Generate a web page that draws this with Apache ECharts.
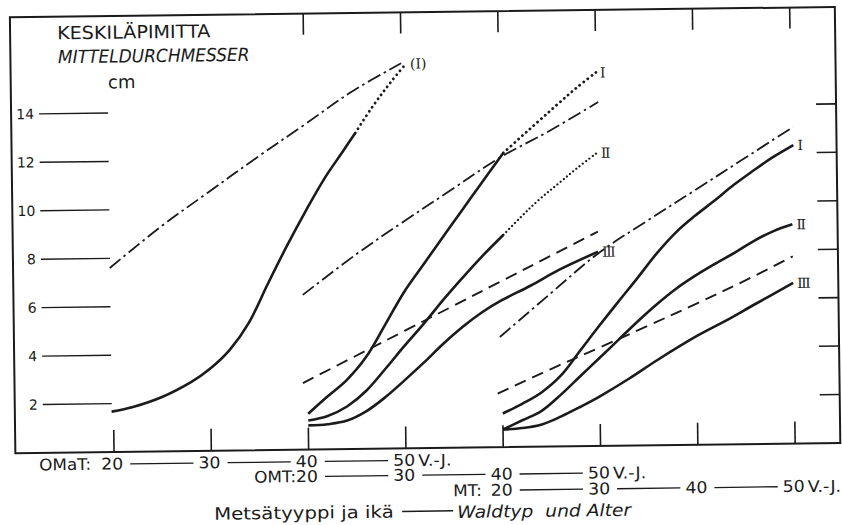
<!DOCTYPE html>
<html>
<head>
<meta charset="utf-8">
<script src="https://cdn.jsdelivr.net/npm/echarts@6/dist/echarts.min.js"></script>
<style>
html,body{margin:0;padding:0;background:#fff;overflow:hidden}
#c{width:842px;height:525px;transform:rotate(-0.72deg);transform-origin:50% 50%;}
</style>
</head>
<body>
<div id="c"></div>
<script>
// ---- axis / label data ----
const typeNames = ['OMaT:', 'OMT:', 'MT:'];
const typeOffsets = [0, 20, 40];          // each forest type's age 20 sits on another tick
const rowAges = [20, 30, 40, 50];
const ageUnit = 'V.-J.';
const yTickValues = [2, 4, 6, 8, 10, 12, 14];
const bottomTickAges = [20, 30, 40, 50, 60, 70, 80, 90];
const topTickAges = [40, 50, 60, 70, 80, 90];
const xMin = 9.86, xMax = 94.64, yMin = 0, yMax = 18;

// ---- OMaT (ages in OMaT years) ----
const omatDashDotAge = [19.8, 25, 30, 35, 40, 45, 50];
const omatDashDotCm  = [7.6, 9.25, 10.67, 12.07, 13.42, 14.78, 15.9];
const omatIAge = [19.8, 22, 25, 28, 30, 32, 34, 36, 38, 40, 42, 44, 45.2];
const omatICm  = [1.67, 1.85, 2.25, 2.85, 3.4, 4.15, 5.25, 6.85, 8.4, 9.85, 11.2, 12.35, 13.05];
const omatIDotAge = [45.2, 47, 49, 50.5];
const omatIDotCm  = [13.05, 14.12, 15.17, 15.88];

// ---- OMT (ages in OMT years) ----
const omtDashDotAge = [19.6, 25, 30, 35, 40, 45, 50.2];
const omtDashDotCm  = [6.39, 8.0, 9.35, 10.65, 11.95, 13.0, 14.2];
const omtDashedAge = [19.5, 25, 30, 35, 40, 45, 50];
const omtDashedCm  = [2.75, 3.85, 4.85, 5.85, 6.85, 7.85, 8.85];
const omtIAge = [20, 22, 24, 26, 28, 30, 32, 34, 36, 38, 40.4];
const omtICm  = [1.48, 2.18, 2.85, 3.78, 5.1, 6.45, 7.56, 8.67, 9.76, 10.86, 12.15];
const omtIDotAge = [40.4, 42, 44, 46, 48, 50];
const omtIDotCm  = [12.15, 12.72, 13.42, 14.12, 14.8, 15.42];
const omtIIAge = [20, 22, 24, 26, 28, 30, 32, 34, 36, 38, 40.3];
const omtIICm  = [1.2, 1.38, 1.76, 2.4, 3.3, 4.24, 5.14, 6.1, 7.0, 7.86, 8.77];
const omtIIDotAge = [40.3, 42, 44, 46, 48, 50];
const omtIIDotCm  = [8.77, 9.45, 10.2, 10.85, 11.5, 12.1];
const omtIIIAge = [20, 22, 24, 26, 28, 30, 32, 34, 36, 38, 40, 43, 46, 50];
const omtIIICm  = [1.0, 1.04, 1.18, 1.56, 2.14, 2.83, 3.55, 4.31, 4.99, 5.58, 6.06, 6.65, 7.3, 8.02];

// ---- MT (ages in MT years) ----
const mtDashDotAge = [19.8, 25, 30, 35, 40, 45, 50.2];
const mtDashDotCm  = [4.55, 6.3, 7.95, 9.25, 10.5, 11.76, 13.07];
const mtDashedAge = [19.5, 25, 30, 35, 40, 45, 50];
const mtDashedCm  = [2.21, 3.2, 4.06, 4.93, 5.82, 6.74, 7.73];
const mtIAge = [20, 22, 24, 26, 28, 30, 32, 34, 36, 38, 40, 42, 44, 46, 48, 50.2];
const mtICm  = [1.39, 1.78, 2.24, 2.92, 3.93, 4.95, 5.94, 6.91, 7.91, 8.77, 9.45, 10.06, 10.7, 11.27, 11.81, 12.32];
const mtIIAge = [20, 22, 24, 26, 28, 30, 32, 34, 36, 38, 40, 42, 44, 46, 48, 50];
const mtIICm  = [0.73, 1.1, 1.48, 2.14, 2.89, 3.63, 4.38, 5.13, 5.83, 6.46, 6.99, 7.46, 7.9, 8.38, 8.77, 9.05];
const mtIIIAge = [20, 22, 24, 26, 28, 30, 33, 36, 40, 43, 46, 50];
const mtIIICm  = [0.73, 0.78, 0.92, 1.24, 1.63, 2.05, 2.76, 3.53, 4.48, 5.1, 5.76, 6.63];

// ---- styles ----
const INK = '#1b1b1b';
const SOLID   = {type: 'solid', width: 2.6};
const DASHDOT = {type: [14, 4, 2.5, 4], width: 1.8};
const DASHED  = {type: [12, 7], width: 1.9};
const DOTS    = {type: [0.1, 5], width: 2.8, cap: 'round'};
const DOTS_S  = {type: [0.1, 4], width: 2.2, cap: 'round'};
const LABEL_FONT = '"DejaVu Serif", "Liberation Serif", serif';

function mk(name, ages, vals, offset, style, label) {
  const s = {
    name: name, type: 'line', symbol: 'none', showSymbol: false,
    smooth: 0.35, silent: true, color: INK,
    itemStyle: {color: INK},
    data: ages.map((a, i) => [a + offset, vals[i]]),
    lineStyle: Object.assign({color: INK, join: 'round'}, style)
  };
  if (label) {
    s.endLabel = {show: true, formatter: label, distance: 4, color: INK,
                  fontFamily: LABEL_FONT, fontSize: 14};
  }
  return s;
}

const series = [
  mk('OMaT dash-dot', omatDashDotAge, omatDashDotCm, typeOffsets[0], DASHDOT),
  mk('OMaT I', omatIAge, omatICm, typeOffsets[0], SOLID),
  mk('OMaT I dotted', omatIDotAge, omatIDotCm, typeOffsets[0], DOTS, '(I)'),

  mk('OMT dash-dot', omtDashDotAge, omtDashDotCm, typeOffsets[1], DASHDOT),
  mk('OMT dashed', omtDashedAge, omtDashedCm, typeOffsets[1], DASHED),
  mk('OMT I', omtIAge, omtICm, typeOffsets[1], SOLID),
  mk('OMT I dotted', omtIDotAge, omtIDotCm, typeOffsets[1], DOTS, 'I'),
  mk('OMT II', omtIIAge, omtIICm, typeOffsets[1], SOLID),
  mk('OMT II dotted', omtIIDotAge, omtIIDotCm, typeOffsets[1], DOTS_S, 'Ⅱ'),
  mk('OMT III', omtIIIAge, omtIIICm, typeOffsets[1], SOLID, 'Ⅲ'),

  mk('MT dash-dot', mtDashDotAge, mtDashDotCm, typeOffsets[2], DASHDOT),
  mk('MT dashed', mtDashedAge, mtDashedCm, typeOffsets[2], DASHED),
  mk('MT I', mtIAge, mtICm, typeOffsets[2], SOLID, 'I'),
  mk('MT II', mtIIAge, mtIICm, typeOffsets[2], SOLID, 'Ⅱ'),
  mk('MT III', mtIIIAge, mtIIICm, typeOffsets[2], SOLID, 'Ⅲ')
];

const chart = echarts.init(document.getElementById('c'), null, {renderer: 'svg'});
chart.setOption({
  animation: false,
  backgroundColor: '#ffffff',
  color: [INK],
  grid: {left: 13, right: 4, top: 12.2, bottom: 76.8, show: true,
         borderColor: INK, borderWidth: 2, backgroundColor: 'transparent'},
  xAxis: {type: 'value', min: xMin, max: xMax, show: false},
  yAxis: {type: 'value', min: yMin, max: yMax, show: false},
  series: series
});

// ---- decorations placed through the chart's own scales ----
const X = v => chart.convertToPixel({xAxisIndex: 0}, v);
const Y = v => chart.convertToPixel({yAxisIndex: 0}, v);
const g = [];
function ln(x1, y1, x2, y2, w) {
  g.push({type: 'line', silent: true, z: 10,
          shape: {x1: x1, y1: y1, x2: x2, y2: y2},
          style: {stroke: INK, lineWidth: w}});
}
function tx(x, y, t, font, align, sx) {
  g.push({type: 'text', silent: true, z: 10, x: x, y: y, scaleX: sx || 1, scaleY: 1,
          style: {text: t, font: font, fill: INK,
                  align: align || 'left', verticalAlign: 'middle',
                  textAlign: align || 'left', textVerticalAlign: 'middle'}});
}
const F = (size, italic) => (italic ? 'italic ' : '') + size + 'px "DejaVu Sans", sans-serif';

const yb = Y(yMin), yt = Y(yMax), xl = X(xMin), xr = X(xMax);
bottomTickAges.forEach(a => ln(X(a), yb, X(a), yb - 22, 1.6));
topTickAges.forEach(a => ln(X(a), yt, X(a), yt + 21, 1.6));
yTickValues.forEach(v => {
  ln(xr, Y(v), xr - 20, Y(v), 1.6);
  ln(xl + 28, Y(v), xl + 97, Y(v), 1.4);
  tx(xl + 23, Y(v), String(v), F(14), 'right');
});

// age rows under the axis
const rowDy = [12, 27, 43];
const prefixGap = [21, 11, 20];
typeNames.forEach((name, r) => {
  const y = yb + rowDy[r];
  const c = rowAges.map(a => X(a + typeOffsets[r]) - 2);
  tx(c[0] - prefixGap[r], y, name, F(16), 'right', 1.05);
  rowAges.forEach((a, k) => {
    tx(c[k], y, String(a), F(16), 'center', 1.08);
    if (k < rowAges.length - 1) ln(c[k] + 18, y, c[k + 1] - 16, y, 1.3);
  });
  tx(c[rowAges.length - 1] + 14, y, ageUnit, F(16), 'left', 1.1);
});

// axis title
tx(211, yb + 63, 'Metsätyyppi ja ikä', F(17), 'left', 1.16);
ln(399, yb + 63, 450, yb + 63, 1.4);
tx(454, yb + 64, 'Waldtyp  und Alter', F(17, true), 'left', 1.1);

// y title
tx(60, 28.5, 'KESKILÄPIMITTA', F(18), 'left', 1.065);
tx(60.6, 52.5, 'MITTELDURCHMESSER', F(18, true), 'left', 0.945);
tx(110.3, 78, 'cm', F(18), 'left');

chart.setOption({graphic: g});
</script>
</body>
</html>
